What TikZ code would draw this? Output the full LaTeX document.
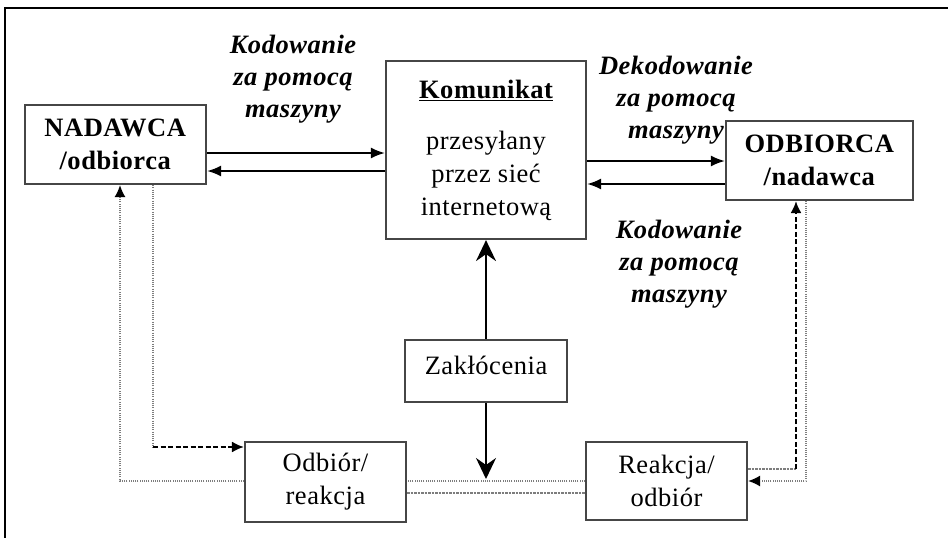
\documentclass[tikz,border=0pt]{standalone}
\usepackage{fontspec}
\setmainfont{Liberation Serif}[LetterSpace=2]
\usetikzlibrary{arrows.meta,backgrounds,calc}
\definecolor{boxgray}{RGB}{70,70,70}
\definecolor{linegray}{RGB}{125,125,125}
\begin{document}
\begin{tikzpicture}[x=1pt,y=-1pt,
  box/.style={draw=boxgray, line width=2.2pt, fill=white, inner sep=0pt,
    align=center, text=black, font=\fontsize{26.5}{33}\selectfont},
  lbl/.style={align=center, inner sep=0pt, text=black,
    font=\fontsize{26.5}{32}\selectfont\bfseries\itshape},
  mainarr/.style={line width=1.9pt, -{Latex[length=14pt,width=11pt]}},
  bigarr/.style={line width=1.9pt, -{Stealth[length=21pt,width=20pt,inset=7pt]}},
  fineline/.style={draw=linegray, line width=1.4pt, dash pattern=on 1pt off 1.2pt},
  greydash/.style={draw=linegray, line width=1.6pt, dash pattern=on 2.5pt off 1pt},
  blackdash/.style={line width=1.9pt, dash pattern=on 5pt off 2.5pt},
  tiparr/.style={-{Latex[length=12pt,width=11pt,color=black]}}
]
\useasboundingbox (0,0) rectangle (948,538);

% frame: top and left rule
\draw[line width=2.6pt] (948,8) -- (5,8) -- (5,538);

% boxes
\node[box, minimum width=181, minimum height=79] (nad) at (115.5,144.5)
  {\textbf{NADAWCA}\\\textbf{/odbiorca}};
\node[box, minimum width=200, minimum height=178] (kom) at (486,150)
  {\textbf{\underline{Komunikat}}\\[18pt]przesyłany\\przez sieć\\internetową};
\node[box, minimum width=187, minimum height=79] (odb) at (819.5,160.5)
  {\textbf{ODBIORCA}\\\textbf{/nadawca}};
\node[box, minimum width=162, minimum height=62, text depth=12pt] (zak) at (486,371)
  {Zakłócenia};
\node[box, minimum width=161, minimum height=80] (orl) at (325.5,482)
  {Odbiór/\\reakcja};
\node[box, minimum width=161, minimum height=78] (rea) at (666.5,481)
  {Reakcja/\\odbiór};

% labels on the transmission links
\node[lbl] (l1) at (293,79) {Kodowanie\\za pomocą\\maszyny};
\node[lbl] (l2) at (676,100) {Dekodowanie\\za pomocą\\maszyny};
\node[lbl] (l3) at (679,264) {Kodowanie\\za pomocą\\maszyny};

% corner points of the feedback loops
\coordinate (noise) at (486,479);
\coordinate (cl1) at (153,447);
\coordinate (cr2) at (796,469);

% message channel
\draw[mainarr] ([yshift=-8.5pt]nad.east) -- ([yshift=-8.5pt]nad.east -| kom.west);
\draw[mainarr] ([yshift=-26.5pt]nad.east -| kom.west) -- ([yshift=-26.5pt]nad.east);
\draw[mainarr] ([yshift=-0.5pt]odb.west -| kom.east) -- ([yshift=-0.5pt]odb.west);
\draw[mainarr] ([yshift=-23.5pt]odb.west) -- ([yshift=-23.5pt]odb.west -| kom.east);

% noise
\draw[bigarr] (zak.north) -- (kom.south);
\draw[bigarr] (zak.south) -- (noise);

% feedback loops, behind the boxes
\begin{pgfonlayer}{background}
  \draw[fineline, tiparr] (rea.west) -| ([xshift=4.5pt]nad.south);
  \draw[greydash] ([yshift=-11pt]orl.east) -- ([yshift=-11pt]orl.east -| rea.west);
  \draw[fineline] (cl1 -| nad.south) ++(37.5,0) coordinate (cl0) (cl0 |- nad.south) -- (cl1);
  \draw[blackdash, tiparr] (cl1) -- (cl1 -| orl.west);
  \draw[fineline, tiparr] ([xshift=-13.5pt]odb.south) |- (rea.east);
  \draw[greydash] (cr2 -| rea.east) -- (cr2);
  \draw[blackdash, tiparr] (cr2) -- (cr2 |- odb.south);
\end{pgfonlayer}
\end{tikzpicture}
\end{document}
